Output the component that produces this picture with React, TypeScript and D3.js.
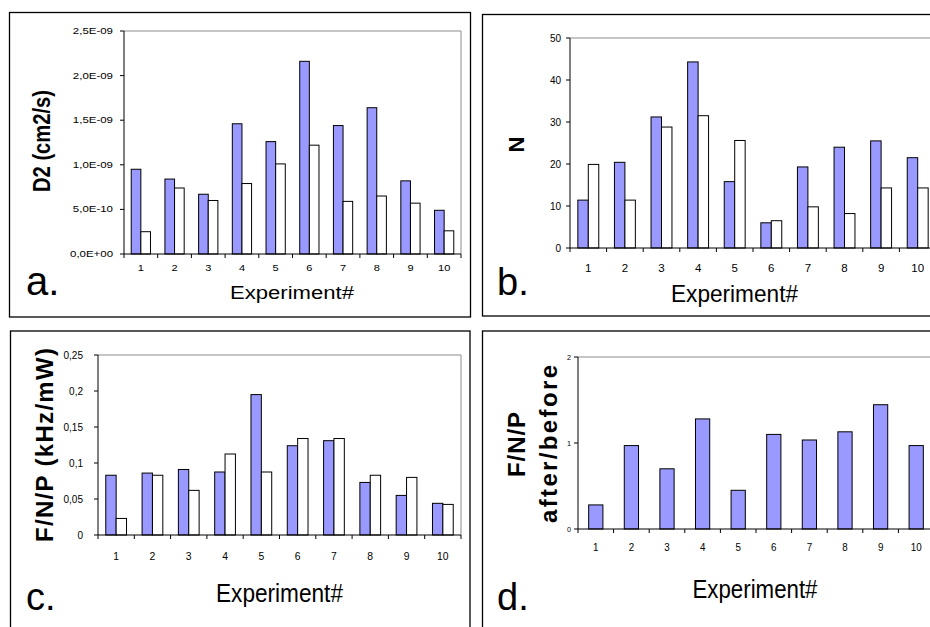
import React from 'react';
import * as d3 from 'd3';

// Experiment numbers shared by all four panels
const experiments = ['1', '2', '3', '4', '5', '6', '7', '8', '9', '10'];

// a. diffusion coefficient D2 (cm2/s)
const d2Before = [0.95e-9, 0.84e-9, 0.67e-9, 1.46e-9, 1.26e-9, 2.16e-9, 1.44e-9, 1.64e-9, 0.82e-9, 0.49e-9];
const d2After = [0.25e-9, 0.74e-9, 0.6e-9, 0.79e-9, 1.01e-9, 1.22e-9, 0.59e-9, 0.65e-9, 0.57e-9, 0.26e-9];
const d2Ticks = [0, 0.5e-9, 1e-9, 1.5e-9, 2e-9, 2.5e-9];

// b. number of molecules N
const nBefore = [11.4, 20.4, 31.2, 44.3, 15.8, 6.0, 19.3, 24.0, 25.5, 21.5];
const nAfter = [19.9, 11.4, 28.8, 31.5, 25.6, 6.5, 9.8, 8.2, 14.3, 14.3];
const nTicks = [0, 10, 20, 30, 40, 50];

// c. brightness per molecule per power F/N/P (kHz/mW)
const fnpBefore = [0.083, 0.086, 0.091, 0.0875, 0.195, 0.124, 0.131, 0.073, 0.055, 0.044];
const fnpAfter = [0.023, 0.083, 0.062, 0.1125, 0.0875, 0.134, 0.134, 0.083, 0.08, 0.0425];
const fnpTicks = [0, 0.05, 0.1, 0.15, 0.2, 0.25];

// d. F/N/P ratio after/before
const fnpRatio = [0.28, 0.97, 0.7, 1.28, 0.45, 1.1, 1.035, 1.13, 1.445, 0.97];
const ratioTicks = [0, 1, 2];

const BLUE = '#9999ff';
const FONT = "'Liberation Sans', Arial, sans-serif";

const fmtSci = (v: number) =>
  v
    .toExponential(1)
    .replace('.', ',')
    .replace(/e([+-])(\d+)$/, (_m, s, n) => 'E' + s + String(n).padStart(2, '0'));
const fmtComma = (v: number) => String(+v.toFixed(2)).replace('.', ',');
const fmtPlain = (v: number) => String(v);

type TextSpec = {
  x: number;
  y: number;
  text: string;
  size: number;
  bold?: boolean;
  anchor?: 'start' | 'middle' | 'end';
  rotate?: number;
  sx?: number;
  length?: number;
  adjust?: 'spacing' | 'spacingAndGlyphs';
};

function Label({ x, y, text, size, bold, anchor = 'middle', rotate = 0, sx = 1, length, adjust }: TextSpec) {
  return (
    <text
      transform={`translate(${x},${y}) rotate(${rotate}) scale(${sx},1)`}
      fontSize={size}
      fontWeight={bold ? 'bold' : 'normal'}
      fontFamily={FONT}
      textAnchor={anchor}
      fill="#000"
      textLength={length}
      lengthAdjust={length ? adjust || 'spacingAndGlyphs' : undefined}
    >
      {text}
    </text>
  );
}

type Series = { values: number[]; fill: string };

type PanelProps = {
  frame: { x: number; y: number; w: number; h: number };
  plot: { left: number; top: number; right: number; bottom: number };
  ticks: number[];
  fmt: (v: number) => string;
  series: Series[];
  yLabel: { size: number; gap: number; sx?: number };
  xLabel: { size: number; y: number; sx?: number };
  texts: TextSpec[];
};

function Panel({ frame, plot, ticks, fmt, series, yLabel, xLabel, texts }: PanelProps) {
  const x = d3.scaleBand<string>().domain(experiments).range([plot.left, plot.right]).padding(0);
  const y = d3
    .scaleLinear()
    .domain([0, ticks[ticks.length - 1]])
    .range([plot.bottom, plot.top]);
  const cw = x.bandwidth();
  // Excel-style 150% gap width
  const bw = cw / (series.length + 1.5);
  const bounds = d3.range(experiments.length + 1).map((i) => plot.left + i * cw);

  return (
    <g>
      <rect x={frame.x} y={frame.y} width={frame.w} height={frame.h} fill="none" stroke="#000" strokeWidth={1.3} />
      {/* plot area border, top and right */}
      <line x1={plot.left} x2={plot.right} y1={y(ticks[ticks.length - 1])} y2={y(ticks[ticks.length - 1])} stroke="#8c8c8c" strokeWidth={1} />
      <line x1={plot.right} x2={plot.right} y1={plot.top} y2={plot.bottom} stroke="#8c8c8c" strokeWidth={1} />
      {experiments.map((e, i) => {
        const cx = (x(e) as number) + cw / 2;
        const start = cx - (bw * series.length) / 2;
        return series.map((s, j) => (
          <rect
            key={e + '-' + j}
            x={start + j * bw}
            y={y(s.values[i])}
            width={bw}
            height={y(0) - y(s.values[i])}
            fill={s.fill}
            stroke="#000"
            strokeWidth={1}
          />
        ));
      })}
      {/* axes */}
      <line x1={plot.left} x2={plot.left} y1={plot.top} y2={plot.bottom} stroke="#000" strokeWidth={1} />
      <line x1={plot.left} x2={plot.right} y1={plot.bottom} y2={plot.bottom} stroke="#000" strokeWidth={1} />
      {ticks.map((t) => (
        <g key={'yt' + t}>
          <line x1={plot.left - 4} x2={plot.left} y1={y(t)} y2={y(t)} stroke="#000" strokeWidth={1} />
          <Label
            x={plot.left - yLabel.gap}
            y={y(t) + yLabel.size * 0.35}
            text={fmt(t)}
            size={yLabel.size}
            anchor="end"
            sx={yLabel.sx}
          />
        </g>
      ))}
      {bounds.map((bx, i) => (
        <line key={'xt' + i} x1={bx} x2={bx} y1={plot.bottom} y2={plot.bottom + 4} stroke="#000" strokeWidth={1} />
      ))}
      {experiments.map((e) => (
        <Label key={'xl' + e} x={(x(e) as number) + cw / 2} y={xLabel.y} text={e} size={xLabel.size} sx={xLabel.sx} />
      ))}
      {texts.map((t, i) => (
        <Label key={'tx' + i} {...t} />
      ))}
    </g>
  );
}

export default function App() {
  return (
    <svg
      width={930}
      height={627}
      style={{ position: 'absolute', left: 0, top: 0, background: '#fff' }}
    >
      <rect x={0} y={0} width={930} height={627} fill="#fff" />
      <Panel
        frame={{ x: 9.5, y: 12.5, w: 461, h: 304.5 }}
        plot={{ left: 124, top: 31, right: 461, bottom: 254 }}
        ticks={d2Ticks}
        fmt={fmtSci}
        series={[
          { values: d2Before, fill: BLUE },
          { values: d2After, fill: '#fff' },
        ]}
        yLabel={{ size: 8.5, gap: 11, sx: 1.35 }}
        xLabel={{ size: 8.5, y: 271, sx: 1.3 }}
        texts={[
          { x: 292, y: 299, text: 'Experiment#', size: 18, length: 124 },
          { x: 50, y: 141, text: 'D2 (cm2/s)', size: 24, bold: true, rotate: -90, length: 102 },
          { x: 26, y: 295, text: 'a.', size: 40, anchor: 'start' },
        ]}
      />
      <Panel
        frame={{ x: 482.5, y: 14.5, w: 460, h: 301.5 }}
        plot={{ left: 570, top: 38, right: 936, bottom: 248 }}
        ticks={nTicks}
        fmt={fmtPlain}
        series={[
          { values: nBefore, fill: BLUE },
          { values: nAfter, fill: '#fff' },
        ]}
        yLabel={{ size: 10, gap: 9 }}
        xLabel={{ size: 11.5, y: 272 }}
        texts={[
          { x: 734.5, y: 302, text: 'Experiment#', size: 24, length: 127 },
          { x: 524, y: 144.5, text: 'N', size: 22, bold: true, rotate: -90 },
          { x: 497, y: 295, text: 'b.', size: 38, anchor: 'start' },
        ]}
      />
      <Panel
        frame={{ x: 10.5, y: 331, w: 459.5, h: 310 }}
        plot={{ left: 98, top: 355, right: 461, bottom: 535 }}
        ticks={fnpTicks}
        fmt={fmtComma}
        series={[
          { values: fnpBefore, fill: BLUE },
          { values: fnpAfter, fill: '#fff' },
        ]}
        yLabel={{ size: 10, gap: 15 }}
        xLabel={{ size: 11.5, y: 560, sx: 0.9 }}
        texts={[
          { x: 279.5, y: 601.5, text: 'Experiment#', size: 25, length: 127 },
          { x: 53, y: 445, text: 'F/N/P (kHz/mW)', size: 24, bold: true, rotate: -90, length: 194, adjust: 'spacing' },
          { x: 26, y: 610, text: 'c.', size: 38, anchor: 'start' },
        ]}
      />
      <Panel
        frame={{ x: 482.5, y: 331, w: 460, h: 310 }}
        plot={{ left: 578, top: 357, right: 934, bottom: 529 }}
        ticks={ratioTicks}
        fmt={fmtPlain}
        series={[{ values: fnpRatio, fill: BLUE }]}
        yLabel={{ size: 8, gap: 7, sx: 0.9 }}
        xLabel={{ size: 11.5, y: 551, sx: 0.85 }}
        texts={[
          { x: 755, y: 598, text: 'Experiment#', size: 25, length: 125 },
          { x: 525, y: 444.5, text: 'F/N/P', size: 24, bold: true, rotate: -90, length: 65, adjust: 'spacing' },
          { x: 557, y: 444, text: 'after/before', size: 24, bold: true, rotate: -90, length: 158, adjust: 'spacing' },
          { x: 497, y: 610, text: 'd.', size: 38, anchor: 'start' },
        ]}
      />
    </svg>
  );
}
